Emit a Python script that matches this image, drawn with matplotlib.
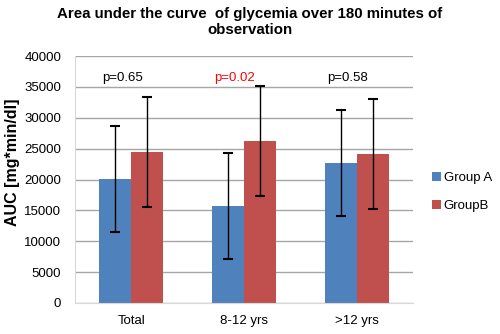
import numpy as np
import matplotlib.pyplot as plt

plt.rcParams['font.family'] = ['Liberation Sans', 'DejaVu Sans']

groups = ['Total', '8-12 yrs', '>12 yrs']
group_a = [20100, 15700, 22650]
group_b = [24450, 26250, 24100]
err_a = [8600, 8600, 8600]
err_b = [8900, 8900, 8900]
p_labels = ['p=0.65', 'p=0.02', 'p=0.58']
p_colors = ['black', 'red', 'black']
p_y = 36400

fig = plt.figure(figsize=(5, 3.34), dpi=100)
ax = fig.add_axes([0.15, 0.093, 0.676, 0.739])

x = np.arange(len(groups))
w = 0.284
ax.bar(x - w/2, group_a, w, color='#4f81bd', label='Group A', zorder=2)
ax.bar(x + w/2, group_b, w, color='#c0504d', label='GroupB', zorder=2)
ax.errorbar(x - w/2, group_a, yerr=err_a, fmt='none', ecolor='black', elinewidth=1, capsize=3.5, capthick=1.5, zorder=3)
ax.errorbar(x + w/2, group_b, yerr=err_b, fmt='none', ecolor='black', elinewidth=1, capsize=3.5, capthick=1.5, zorder=3)

for xi, lab, c in zip(x, p_labels, p_colors):
    ax.text(xi - 0.08, p_y, lab, color=c, ha='center', va='center', fontsize=9.5, zorder=4)

ax.set_xlim(-0.5, 2.5)
ax.set_ylim(0, 40000)
ax.set_yticks(np.arange(0, 40001, 5000))
ax.set_xticks(x)
ax.set_xticklabels(groups)
ax.tick_params(axis='both', length=0, labelsize=9.5)
ax.tick_params(axis='x', pad=9)
ax.tick_params(axis='y', pad=10)
ax.grid(axis='y', color='#a6a6a6', linewidth=1, zorder=0)
for s in ['top', 'right']:
    ax.spines[s].set_visible(False)
ax.spines['left'].set_color('#d9d9d9')
ax.spines['bottom'].set_color('#d9d9d9')
ax.set_ylabel('AUC [mg*min/dl]', fontsize=11.5, fontweight='bold', labelpad=3, y=0.57)
fig.suptitle('Area under the curve  of glycemia over 180 minutes of\nobservation',
             fontsize=10.8, fontweight='bold', x=0.5, y=0.98)
fig.legend(loc='center left', bbox_to_anchor=(0.84, 0.425), frameon=False,
           fontsize=9.5, handlelength=0.7, handleheight=0.7, handletextpad=0.2, labelspacing=1.2)

plt.savefig('out.png')
